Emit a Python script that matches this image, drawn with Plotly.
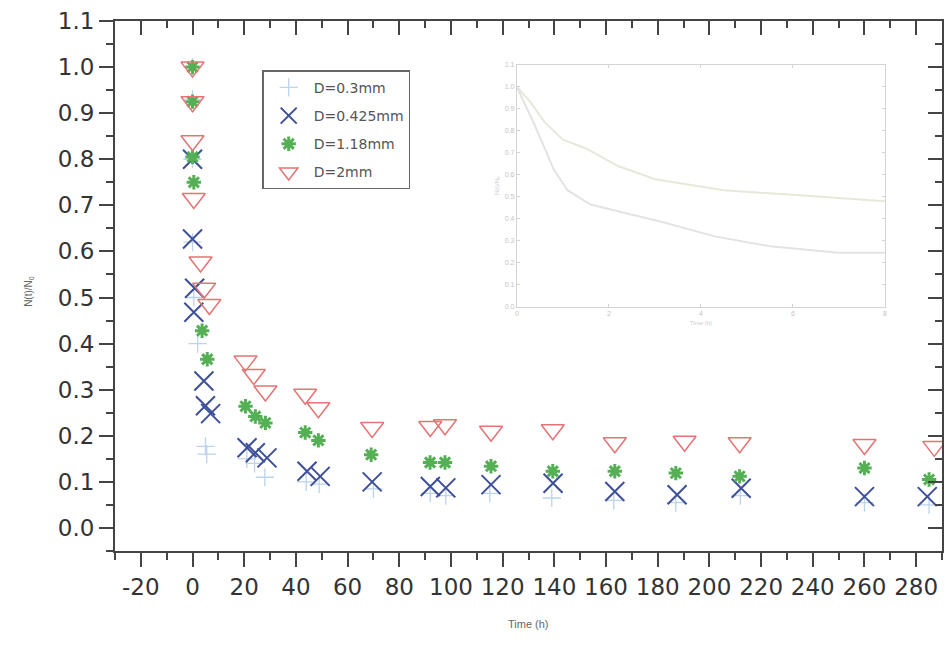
import plotly.graph_objects as go

# ---------------- data ----------------
t_03 = [0, 0, 0, 0, 0.5, 2, 5, 5.5, 21, 24, 28, 44, 49, 70, 92, 98, 115, 139, 163, 187, 212, 260, 285]
v_03 = [1.0, 0.93, 0.80, 0.62, 0.50, 0.40, 0.177, 0.16, 0.15, 0.14, 0.11, 0.10, 0.095, 0.085, 0.075, 0.07, 0.075, 0.065, 0.06, 0.055, 0.07, 0.055, 0.05]

t_0425 = [0, 0, 0.8, 0.5, 4.4, 5, 7, 21.1, 24.3, 28.8, 44.3, 49.4, 69.5, 92, 98, 115.5, 139.5, 163.4, 187.5, 212.3, 260, 284.3]
v_0425 = [0.80, 0.627, 0.52, 0.468, 0.319, 0.265, 0.248, 0.174, 0.163, 0.152, 0.123, 0.112, 0.10, 0.09, 0.087, 0.094, 0.097, 0.079, 0.072, 0.086, 0.068, 0.068]

t_118 = [0, 0, 0, 0.5, 3.7, 5.7, 20.5, 24.3, 28.2, 43.6, 48.7, 69.1, 91.9, 97.7, 115.5, 139.4, 163.4, 187, 211.7, 260, 285]
v_118 = [1.0, 0.925, 0.805, 0.75, 0.428, 0.366, 0.264, 0.242, 0.228, 0.207, 0.19, 0.159, 0.142, 0.142, 0.134, 0.123, 0.123, 0.119, 0.112, 0.13, 0.105]

t_2 = [0, 0, 0, 0.5, 3.1, 4.5, 6.5, 20.5, 23.7, 28.2, 43.6, 48.7, 69.5, 92, 97.7, 115.5, 139.4, 163.4, 190.4, 211.7, 260, 287]
v_2 = [1.0, 0.925, 0.84, 0.715, 0.577, 0.52, 0.485, 0.362, 0.333, 0.297, 0.29, 0.261, 0.218, 0.22, 0.224, 0.21, 0.213, 0.185, 0.188, 0.185, 0.181, 0.177]

# inset curves
inset_t_a = [0, 0.3, 0.6, 1.0, 1.5, 2.2, 3.0, 4.5, 5.9, 7.3, 8.0]
inset_v_a = [1.0, 0.93, 0.84, 0.76, 0.72, 0.64, 0.58, 0.53, 0.51, 0.49, 0.48]
inset_t_b = [0, 0.4, 0.8, 1.1, 1.6, 2.2, 3.2, 4.3, 5.5, 7.0, 8.0]
inset_v_b = [1.0, 0.82, 0.625, 0.53, 0.465, 0.435, 0.383, 0.32, 0.275, 0.245, 0.245]

x_ticks = list(range(-20, 281, 20))
y_ticks = [round(0.1 * i, 1) for i in range(12)]

# ---------------- figure ----------------
fig = go.Figure()

c03, c0425, c118, c2 = "#bcd3ec", "#3d4f98", "#55b055", "#e37474"

fig.add_trace(go.Scatter(x=t_03, y=v_03, mode="markers", name="D=0.3mm", legendgroup="a",
                         marker=dict(symbol="cross-thin-open", size=13, color=c03,
                                     line=dict(color=c03, width=1.3))))
fig.add_trace(go.Scatter(x=t_0425, y=v_0425, mode="markers", name="D=0.425mm", legendgroup="b",
                         marker=dict(symbol="x-thin-open", size=19, color=c0425,
                                     line=dict(color=c0425, width=2))))
fig.add_trace(go.Scatter(x=t_118, y=v_118, mode="markers", name="D=1.18mm", legendgroup="c",
                         marker=dict(symbol="asterisk-open", size=12, color=c118,
                                     line=dict(color=c118, width=3))))
fig.add_trace(go.Scatter(x=t_2, y=v_2, mode="markers", name="D=2mm", legendgroup="d",
                         marker=dict(symbol="triangle-down-open", size=20, color=c2,
                                     line=dict(color=c2, width=1.5))))

# helper (empty) trace so the mirrored top/right axes are drawn
fig.add_trace(go.Scatter(x=[], y=[], xaxis="x2", yaxis="y2", mode="markers",
                         showlegend=False, hoverinfo="skip"))

# inset
fig.add_trace(go.Scatter(x=inset_t_a, y=inset_v_a, mode="lines", xaxis="x3", yaxis="y3",
                         line=dict(color="#e8e8da", width=2), showlegend=False))
fig.add_trace(go.Scatter(x=inset_t_b, y=inset_v_b, mode="lines", xaxis="x3", yaxis="y3",
                         line=dict(color="#e3e3e3", width=2), showlegend=False))

axis_col = "#444444"
tick_font = dict(family="DejaVu Sans", size=23, color="#333333")
inset_col = "#d4d4d4"

fig.update_layout(
    width=948, height=651,
    margin=dict(l=115, r=6, t=21, b=100, autoexpand=False),
    paper_bgcolor="white", plot_bgcolor="white",
    showlegend=True,
    legend=dict(x=0.178, y=0.907, xanchor="left", yanchor="top",
                bgcolor="white", bordercolor="#666666", borderwidth=1.5,
                font=dict(family="DejaVu Sans", size=14, color="#555555"),
                itemwidth=40, tracegroupgap=7),
    xaxis=dict(range=[-30, 290], tickmode="array", tickvals=x_ticks,
               ticktext=[str(v) for v in x_ticks], tickangle=0, automargin=False,
               ticks="outside", ticklen=14, tickwidth=2, tickcolor=axis_col,
               minor=dict(dtick=10, tick0=0, ticks="outside", ticklen=7,
                          tickwidth=2, tickcolor=axis_col),
               showline=True, linecolor=axis_col, linewidth=2,
               showgrid=False, zeroline=False, tickfont=tick_font),
    yaxis=dict(range=[-0.05, 1.1], tickmode="array", tickvals=y_ticks,
               ticktext=[f"{v:.1f}" for v in y_ticks], automargin=False,
               ticks="outside", ticklen=14, tickwidth=2, tickcolor=axis_col,
               minor=dict(dtick=0.05, tick0=0, ticks="outside", ticklen=7,
                          tickwidth=2, tickcolor=axis_col),
               showline=True, linecolor=axis_col, linewidth=2,
               showgrid=False, zeroline=False, tickfont=tick_font),
    xaxis2=dict(overlaying="x", side="top", anchor="y2", range=[-30, 290],
                tickmode="array", tickvals=x_ticks, showticklabels=False, automargin=False,
                ticks="inside", ticklen=14, tickwidth=2, tickcolor=axis_col,
                minor=dict(dtick=10, tick0=0, ticks="inside", ticklen=7,
                           tickwidth=2, tickcolor=axis_col),
                showline=True, linecolor=axis_col, linewidth=2,
                showgrid=False, zeroline=False),
    yaxis2=dict(overlaying="y", side="right", anchor="x2", range=[-0.05, 1.1],
                tickmode="array", tickvals=y_ticks, showticklabels=False, automargin=False,
                ticks="inside", ticklen=14, tickwidth=2, tickcolor=axis_col,
                minor=dict(dtick=0.05, tick0=0, ticks="inside", ticklen=7,
                           tickwidth=2, tickcolor=axis_col),
                showline=True, linecolor=axis_col, linewidth=2,
                showgrid=False, zeroline=False),
    xaxis3=dict(domain=[0.486, 0.931], anchor="y3", range=[0, 8],
                tickvals=[0, 2, 4, 6, 8], ticks="inside", ticklen=3, automargin=False,
                tickcolor=inset_col, showline=True, linecolor=inset_col,
                linewidth=1, mirror="ticks", showgrid=False, zeroline=False,
                tickfont=dict(family="Liberation Sans", size=7, color="#c4c4c4"),
                title=dict(text="Time (h)", standoff=4,
                           font=dict(family="Liberation Sans", size=6, color="#cccccc"))),
    yaxis3=dict(domain=[0.461, 0.917], anchor="x3", range=[0, 1.1], automargin=False,
                tickvals=y_ticks, ticktext=[f"{v:.1f}" for v in y_ticks],
                ticks="inside", ticklen=3,
                tickcolor=inset_col, showline=True, linecolor=inset_col,
                linewidth=1, mirror="ticks", showgrid=False, zeroline=False,
                tickfont=dict(family="Liberation Sans", size=7, color="#c4c4c4"),
                title=dict(text="N(t)/N<sub>0</sub>", standoff=4,
                           font=dict(family="Liberation Sans", size=6, color="#cccccc"))),
    annotations=[
        dict(text="N(t)/N<sub>0</sub>", x=-0.113, y=0.49, xref="paper", yref="paper",
             textangle=-90, showarrow=False,
             font=dict(family="Liberation Sans", size=10, color="#666666")),
        dict(text="Time (h)", x=0.5, y=-0.153, xref="paper", yref="paper",
             showarrow=False,
             font=dict(family="Liberation Sans", size=11, color="#666666")),
    ],
)

fig.write_html("out.html", config={"displayModeBar": False},
               post_script="document.body.style.margin='0';document.body.style.overflow='hidden';")
